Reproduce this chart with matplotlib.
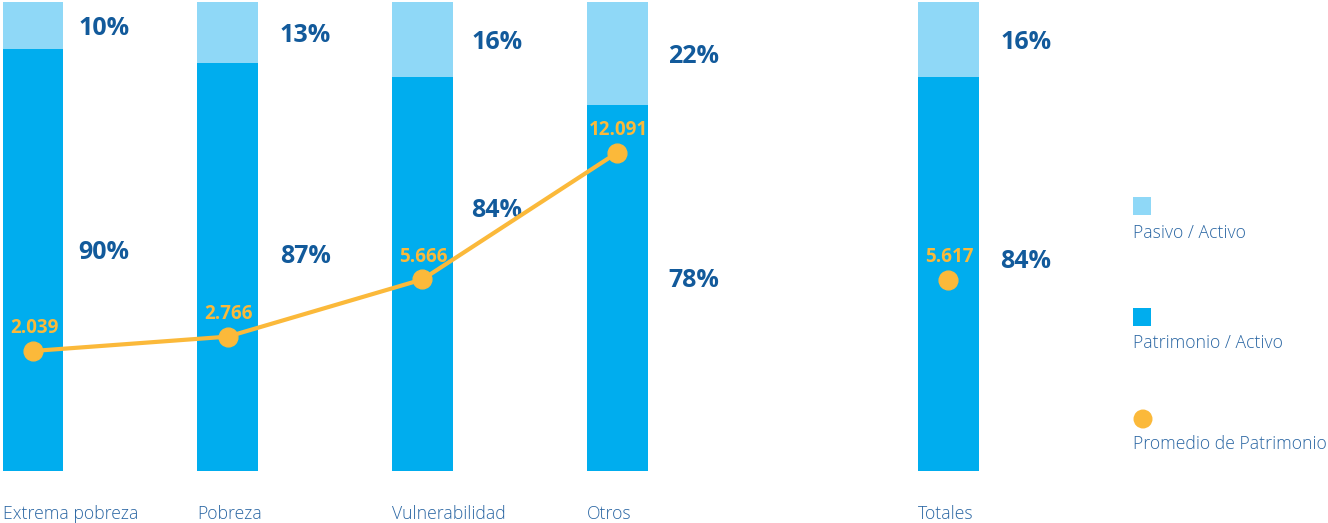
import matplotlib
matplotlib.use("Agg")
import matplotlib.pyplot as plt
from matplotlib.patches import Rectangle, Circle
from matplotlib.transforms import blended_transform_factory

# ---- data -------------------------------------------------------------
categories = ["Extrema pobreza", "Pobreza", "Vulnerabilidad", "Otros", "Totales"]
patrimonio_activo = [90, 87, 84, 78, 84]      # %
pasivo_activo = [10, 13, 16, 22, 16]          # %
promedio_patrimonio = [2039, 2766, 5666, 12091, 5617]
series_names = ["Pasivo / Activo", "Patrimonio / Activo", "Promedio de Patrimonio"]

# ---- style ------------------------------------------------------------
C_PASIVO = "#8fd8f7"
C_PATRIMONIO = "#00adee"
C_LINE = "#fbb93a"
C_PCT = "#125a9b"
C_TEXT = "#2a66a3"
FONT = ["Open Sans", "DejaVu Sans"]
plt.rcParams["font.family"] = FONT

W, H = 1328, 523
fig = plt.figure(figsize=(W / 100, H / 100), dpi=100)
fig.patch.set_facecolor("white")

# layout: x positions of groups (Totales set apart), bar width
positions = [0, 1, 2, 3, 4.7]
bar_w = 0.313
unit_px = 194.7
x0_px = 33.0
bottom_px, top_px = 470.7, 2.0

ax = fig.add_axes([0, (H - bottom_px) / H, 1, (bottom_px - top_px) / H])
ax.set_xlim(-x0_px / unit_px, (W - x0_px) / unit_px)
ax.set_ylim(0, 100)
ax.axis("off")

ax.bar(positions, patrimonio_activo, width=bar_w, color=C_PATRIMONIO, linewidth=0)
ax.bar(positions, pasivo_activo, width=bar_w, bottom=patrimonio_activo,
       color=C_PASIVO, linewidth=0)

# percentage labels to the right of each bar (offsets in pixels)
pct_dx_px = [45, 52, 49, 51, 52]
pat_nudge_px = [9, 11.5, 64.5, 8.7, 13.7]
for x, pat, pas, dx, nudge in zip(positions, patrimonio_activo, pasivo_activo,
                                   pct_dx_px, pat_nudge_px):
    ax.annotate(f"{pas}%", (x, pat + pas / 2), xytext=(dx * 0.72, -2.0),
                textcoords="offset points", ha="left", va="center",
                fontsize=18, fontweight="bold", color=C_PCT)
    ax.annotate(f"{pat}%", (x, pat / 2), xytext=(dx * 0.72, nudge * 0.72 - 1.0),
                textcoords="offset points", ha="left", va="center",
                fontsize=18, fontweight="bold", color=C_PCT)

# secondary scale for average equity
ax2 = ax.twinx()
ax2.set_ylim(-4030, 19730)
ax2.axis("off")
ax2.plot(positions[:4], promedio_patrimonio[:4], color=C_LINE, lw=3,
         marker="o", markersize=13.5, solid_capstyle="round", zorder=3)
ax2.plot(positions[4:], promedio_patrimonio[4:], color=C_LINE, lw=0,
         marker="o", markersize=13.5, zorder=3)
for x, v in zip(positions, promedio_patrimonio):
    ax2.annotate(f"{v:,}".replace(",", "."), (x, v), xytext=(0.8, 16.5),
                 textcoords="offset points", ha="center", va="center",
                 fontsize=13.5, fontweight="bold", color=C_LINE)

# category labels under the bars
trans = blended_transform_factory(ax.transData, fig.transFigure)
for x, name in zip(positions, categories):
    ax.text(x - bar_w / 2, 1 - 514 / H, name, transform=trans, ha="left",
            va="center", fontsize=12.7, fontweight="light", color=C_TEXT)

# legend (marker above label)
lx = 1133
sq = 18
legend_items = [
    (series_names[0], C_PASIVO, "square", 205.7, 232.5),
    (series_names[1], C_PATRIMONIO, "square", 317.0, 343.0),
    (series_names[2], C_LINE, "circle", 419.0, 444.0),
]
for label, color, kind, my, ty in legend_items:
    if kind == "square":
        fig.patches.append(Rectangle(((lx) / W, 1 - (my + sq / 2) / H), sq / W, sq / H,
                                     transform=fig.transFigure, color=color, lw=0))
    else:
        ax_leg = fig.add_axes([(lx - 1) / W, 1 - (my + 11) / H, 22 / W, 22 / H])
        ax_leg.set_xlim(0, 22)
        ax_leg.set_ylim(0, 22)
        ax_leg.set_aspect("equal")
        ax_leg.axis("off")
        ax_leg.add_patch(Circle((11, 11), 9.5, color=color, lw=0))
    fig.text(lx / W, 1 - ty / H, label, ha="left", va="center",
             fontsize=12.7, fontweight="light", color=C_TEXT)

fig.savefig("out.png", dpi=100, facecolor="white")
